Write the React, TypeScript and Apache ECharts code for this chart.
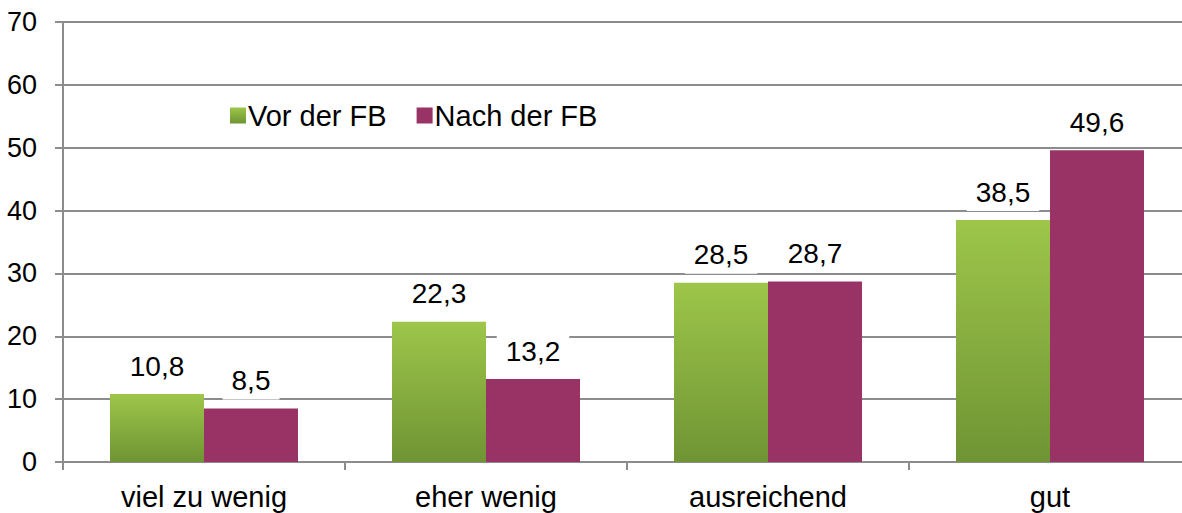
import React, { useEffect, useRef } from "react";
import * as echarts from "echarts";

const categories = ["viel zu wenig", "eher wenig", "ausreichend", "gut"];
const seriesNames = ["Vor der FB", "Nach der FB"];
const vorValues = [10.8, 22.3, 28.5, 38.5];
const nachValues = [8.5, 13.2, 28.7, 49.6];

const font = "Liberation Sans, Arial, sans-serif";

export default function App() {
  const ref = useRef<HTMLDivElement>(null);
  useEffect(() => {
    if (!ref.current) return;
    const chart = echarts.init(ref.current, null, { renderer: "svg" });
    const label = {
      show: true,
      position: "top",
      distance: 9,
      fontSize: 28,
      fontFamily: font,
      color: "#000",
      backgroundColor: "#fff",
      padding: [2, 9, 5, 9],
      formatter: (p: any) => String(p.value).replace(".", ","),
    };
    chart.setOption({
      animation: false,
      backgroundColor: "#fff",
      grid: { left: 63, right: 9, top: 22, bottom: 51, containLabel: false },
      legend: {
        left: 225,
        top: 96,
        itemWidth: 16,
        itemHeight: 16,
        itemGap: 30,
        icon: "rect",
        textStyle: { fontSize: 29, fontFamily: font, color: "#000", padding: [0, 0, 0, -3] },
        data: seriesNames,
      },
      xAxis: {
        type: "category",
        data: categories,
        axisLine: { lineStyle: { color: "#8c8c8c", width: 2 } },
        axisTick: { show: true, length: 8, alignWithLabel: false, lineStyle: { color: "#8c8c8c", width: 2 } },
        axisLabel: { fontSize: 29, fontFamily: font, color: "#000", margin: 20 },
      },
      yAxis: {
        type: "value",
        min: 0,
        max: 70,
        interval: 10,
        axisLine: { show: true, lineStyle: { color: "#8c8c8c", width: 2 } },
        axisTick: { show: true, length: 8, lineStyle: { color: "#8c8c8c", width: 2 } },
        axisLabel: { fontSize: 27, fontFamily: font, color: "#000", margin: 26 },
        splitLine: { lineStyle: { color: "#8c8c8c", width: 2 } },
      },
      series: [
        {
          name: seriesNames[0],
          type: "bar",
          data: vorValues,
          barWidth: 94,
          barGap: "0%",
          itemStyle: {
            color: new echarts.graphic.LinearGradient(0, 0, 0, 1, [
              { offset: 0, color: "#9dc64a" },
              { offset: 1, color: "#6f9434" },
            ]),
          },
          label,
        },
        {
          name: seriesNames[1],
          type: "bar",
          data: nachValues,
          barWidth: 94,
          barGap: "0%",
          itemStyle: { color: "#993366" },
          label,
        },
      ],
    });
    return () => chart.dispose();
  }, []);
  return (
    <div style={{ width: 1182, height: 513, position: "absolute", left: 0, top: 0, overflow: "hidden" }}>
      <div ref={ref} style={{ width: 1200, height: 513, position: "absolute", left: 0, top: 0 }} />
    </div>
  );
}
